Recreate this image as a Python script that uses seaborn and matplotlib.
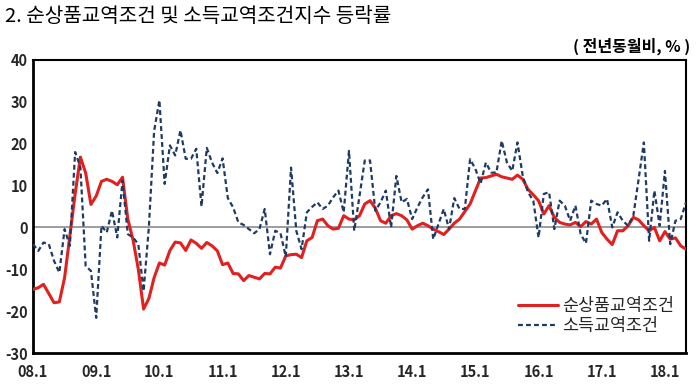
import numpy as np
import pandas as pd
import matplotlib
matplotlib.use("Agg")
import matplotlib.pyplot as plt
import seaborn as sns
from matplotlib.lines import Line2D

# ---- data (monthly, 2008.01 - 2018.05) ----
tick_labels = ["08.1", "09.1", "10.1", "11.1", "12.1", "13.1", "14.1", "15.1", "16.1", "17.1", "18.1"]
series_names = ["순상품교역조건", "소득교역조건"]

net_barter = [
    -14.8, -14.4, -13.6, -15.8, -18.0, -17.8, -12.0, -2.0, 8.0, 16.8, 13.0, 5.5,
    7.5, 11.0, 11.5, 11.0, 10.2, 12.0, 2.0, -3.0, -10.0, -19.5, -17.0, -12.0,
    -8.5, -9.0, -5.5, -3.5, -3.7, -5.5, -3.0, -3.8, -5.0, -3.6, -4.4, -5.6,
    -8.9, -8.5, -11.0, -11.1, -12.7, -11.5, -11.9, -12.3, -11.0, -11.1, -9.5, -9.7,
    -6.8, -6.5, -6.4, -7.2, -3.2, -2.4, 1.6, 2.0, 0.4, -0.4, -0.2, 2.8,
    2.0, 1.8, 2.8, 5.6, 6.4, 4.6, 1.6, 1.0, 2.8, 3.3, 2.8, 1.8,
    -0.4, 0.4, 1.0, 0.4, -0.4, -1.0, -1.7, -0.4, 1.0, 2.0, 3.8, 5.6,
    8.7, 11.8, 11.9, 12.3, 12.7, 12.1, 11.8, 11.5, 12.5, 11.5, 9.1, 7.8,
    6.4, 3.2, 5.2, 2.4, 1.2, 0.8, 0.6, 1.2, 0.2, 1.4, 0.8, 2.0,
    -1.2, -2.8, -4.1, -0.8, -0.8, 0.4, 2.4, 1.8, 0.4, -0.8, 0.0, -3.2,
    -1.0, -2.8, -2.5, -4.4, -5.2,
]

income = [
    -4.0, -5.6, -3.6, -4.0, -8.0, -10.8, -0.4, -4.4, 18.0, 14.4, -9.2, -10.4,
    -21.6, 0.4, -1.2, 4.0, -2.4, 11.2, -1.6, -2.4, -4.0, -15.2, 0.0, 23.0,
    30.4, 10.4, 19.6, 17.2, 23.2, 16.4, 16.4, 18.8, 5.0, 19.0, 15.5, 13.0,
    16.5, 7.0, 4.8, 1.2, 0.6, -0.4, -1.4, -0.4, 4.4, -6.4, -0.8, -1.4,
    -7.0, 14.3, -0.8, -5.2, 3.6, 4.9, 6.0, 4.4, 5.2, 7.2, 8.8, 3.6,
    18.3, -0.8, 7.5, 16.0, 16.0, 4.0, 6.0, 8.8, 0.0, 12.3, 6.0, 6.8,
    2.0, 4.8, 7.2, 9.1, -2.8, 0.8, 4.4, -0.4, 7.0, 4.4, 4.4, 16.3,
    14.0, 10.5, 15.5, 13.1, 13.1, 20.7, 15.5, 13.5, 20.3, 12.3, 8.4, 6.4,
    -2.4, 8.0, 8.4, -0.4, 6.4, 5.2, 1.6, 5.2, -1.6, -3.8, 6.4, 5.6,
    5.2, 6.8, 0.0, 3.6, 1.6, 0.4, 2.8, 11.5, 20.3, -3.2, 8.8, 0.4,
    13.5, -4.0, 1.6, 2.0, 6.0,
]

n = len(net_barter)
month_idx = np.arange(n)
df = pd.DataFrame({
    "idx": np.concatenate([month_idx, month_idx]),
    "value": net_barter + income,
    "series": [series_names[0]] * n + [series_names[1]] * n,
})

sns.set_style("white")
plt.rcParams["font.family"] = ["Noto Sans CJK KR", "DejaVu Sans"]

fig = plt.figure(figsize=(6.99, 3.87), dpi=100)
ax = fig.add_axes([33 / 699, 1 - 353 / 387, (686 - 33) / 699, (353 - 60) / 387])

ax.axhline(0, color="#8c8c8c", lw=1.2, zorder=1)

palette = {series_names[0]: "#e0211f", series_names[1]: "#1f3b63"}
sns.lineplot(data=df, x="idx", y="value", hue="series", style="series",
             palette=palette,
             dashes={series_names[0]: "", series_names[1]: (2.2, 1.4)},
             ax=ax, legend=False, zorder=3)
for line, lw in zip(ax.get_lines()[1:], [2.2, 1.6]):
    line.set_linewidth(lw)

ax.set_xlim(0, n - 1)
ax.set_ylim(-30, 40)
ax.set_yticks(np.arange(-30, 41, 10))
ax.set_yticklabels([str(v) for v in range(-30, 41, 10)], fontsize=10.5, fontweight="bold")
ax.set_xticks(np.arange(0, n, 12)[:len(tick_labels)])
ax.set_xticklabels(tick_labels, fontsize=10.5, fontweight="bold")
ax.tick_params(axis="y", length=0, pad=4)
ax.tick_params(axis="x", length=0, pad=8)
ax.set_xlabel("")
ax.set_ylabel("")

for side in ["left", "bottom"]:
    ax.spines[side].set_linewidth(2.0)
for side in ["top", "right"]:
    ax.spines[side].set_linewidth(1.5)
for s in ax.spines.values():
    s.set_color("black")
    s.set_visible(True)

handles = [Line2D([], [], color=palette[series_names[0]], lw=2.2),
           Line2D([], [], color=palette[series_names[1]], lw=1.6, dashes=(2.2, 1.4))]
ax.legend(handles, series_names, loc="lower right", bbox_to_anchor=(1.0, 0.02),
          frameon=False, fontsize=12.5, handlelength=2.3, handletextpad=0.2,
          labelspacing=0.1, borderaxespad=0.3)

fig.text(5 / 699, 1 - 16 / 387, "2. 순상품교역조건 및 소득교역조건지수 등락률",
         fontsize=14.5, va="center", ha="left", color="black")
fig.text(690 / 699, 1 - 46 / 387, "( 전년동월비, % )", fontsize=11.5,
         fontweight="bold", va="center", ha="right", color="black")

fig.savefig("out.png", dpi=100)
